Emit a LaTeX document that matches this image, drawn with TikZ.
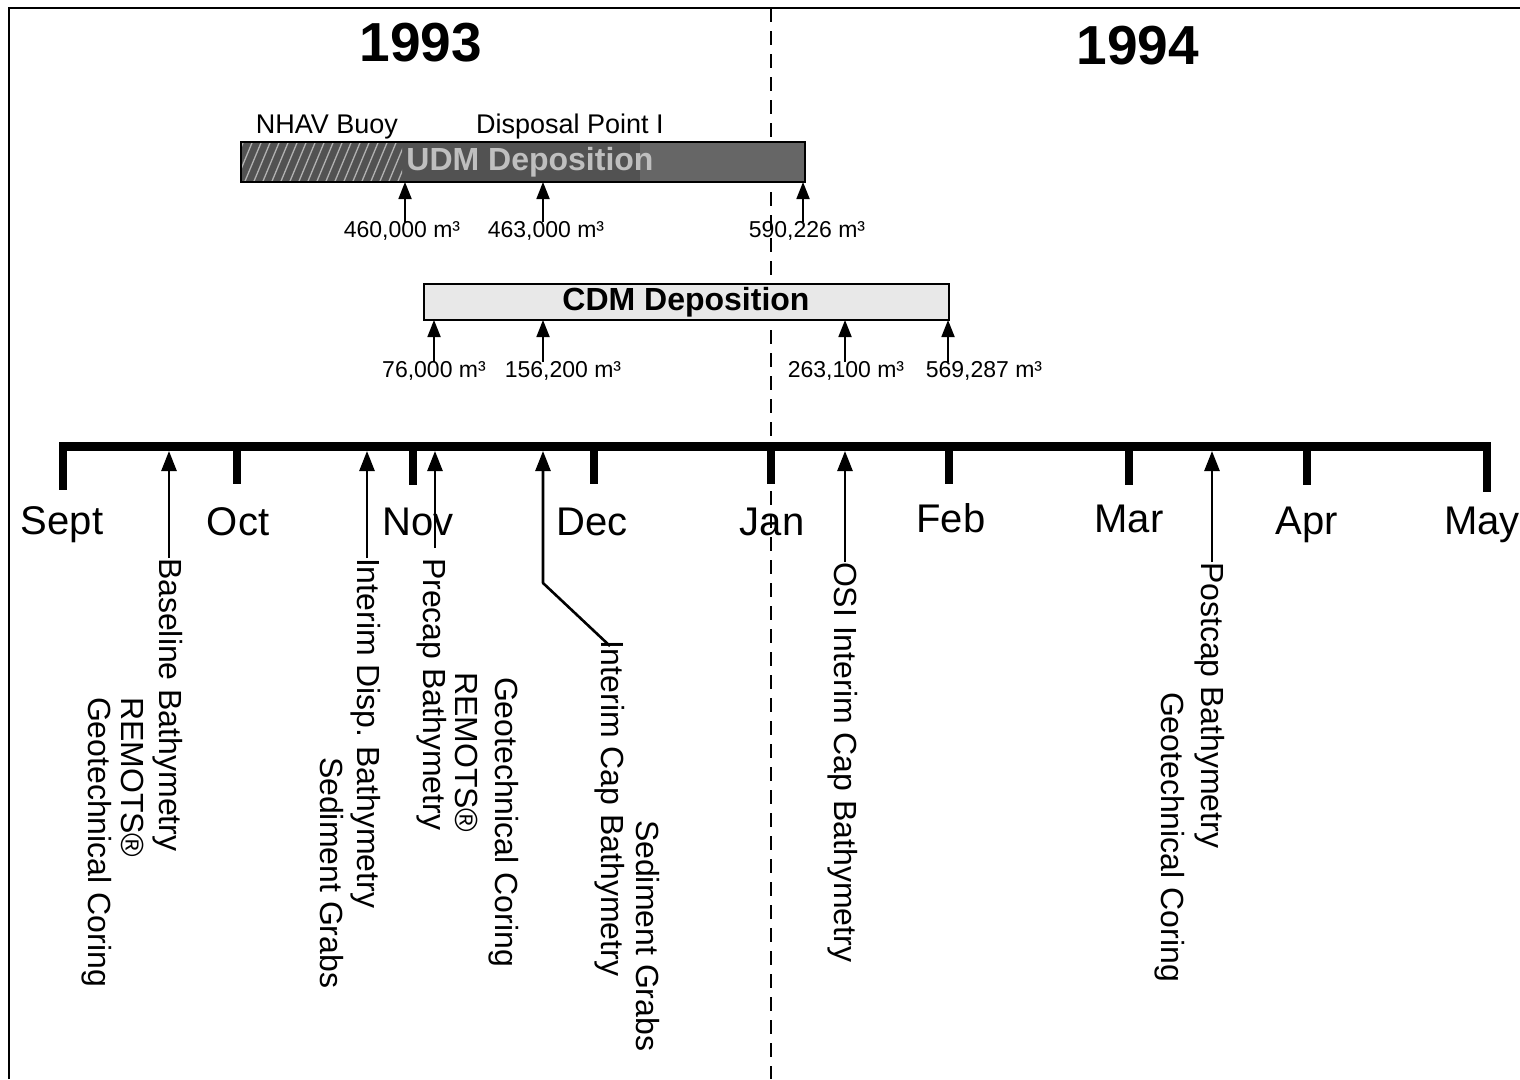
\documentclass[tikz,border=0pt]{standalone}
\usepackage{fontspec}
\setmainfont{Liberation Sans}
\usetikzlibrary{arrows.meta}
\begin{document}
\begin{tikzpicture}[x=1pt,y=-1pt,
  every node/.style={inner sep=0pt, outer sep=0pt},
  year/.style={font=\fontsize{55}{58}\selectfont\bfseries},
  month/.style={font=\fontsize{40}{42}\selectfont, anchor=base},
  site/.style={font=\fontsize{27}{28}\selectfont},
  barlabel/.style={font=\fontsize{32}{34}\selectfont\bfseries},
  vol/.style={font=\fontsize{23}{25}\selectfont},
  event/.style={font=\fontsize{32}{34}\selectfont, rotate=-90, anchor=west},
  evarrow/.style={line width=2.6pt, -{Triangle[width=15pt,length=20pt]}},
  volarrow/.style={line width=1.8pt, -{Triangle[width=13pt,length=17pt]}},
  mtick/.style={line width=8pt},
]
\useasboundingbox (0,0) rectangle (1520,1079);
\fill[white] (0,0) rectangle (1520,1079);
% frame
\draw[line width=1.5pt] (9,1079) -- (9,8) -- (1520,8);
% year divider
\draw[line width=2pt, dash pattern=on 14pt off 9pt] (771,8) -- (771,1079);
% years
\node[year] (y93) at (421,43) {1993};
\node[year] (y94) at (1138,46) {1994};
% site labels
\node[site] (nhav) at (327,127) {NHAV Buoy};
\node[site] (dp) at (570,127) {Disposal Point I};
% UDM bar
\fill[black!68] (241,142) rectangle (805,182);
\fill[black!60] (640,142) rectangle (805,182);
\begin{scope}
  \clip (241,142) rectangle (402,182);
  \foreach \i in {0,9,...,190} \draw[gray!60, line width=1.3pt] (225+\i,186) -- (245+\i,138);
\end{scope}
\draw[line width=1.2pt] (241,142) rectangle (805,182);
\node[barlabel, text=white!75!black] (udm) at (530,162) {UDM Deposition};
\coordinate (u1) at (405,182);
\coordinate (u2) at (543,182);
\coordinate (u3) at (803,182);
\node[vol] (v1) at (402,231) {460,000 m³};
\node[vol] (v2) at (546,231) {463,000 m³};
\node[vol] (v3) at (807,231) {590,226 m³};
\draw[volarrow] (v1.north -| u1) -- (u1);
\draw[volarrow] (v2.north -| u2) -- (u2);
\draw[volarrow] (v3.north -| u3) -- (u3);
% CDM bar
\fill[black!9] (424,284) rectangle (949,320);
\draw[line width=1.5pt] (424,284) rectangle (949,320);
\node[barlabel] (cdm) at (686,302) {CDM Deposition};
\coordinate (c1) at (434,320);
\coordinate (c2) at (543,320);
\coordinate (c3) at (845,320);
\coordinate (c4) at (948,320);
\node[vol] (w1) at (434,371) {76,000 m³};
\node[vol] (w2) at (563,371) {156,200 m³};
\node[vol] (w3) at (846,371) {263,100 m³};
\node[vol] (w4) at (984,371) {569,287 m³};
\draw[volarrow] (w1.north -| c1) -- (c1);
\draw[volarrow] (w2.north -| c2) -- (c2);
\draw[volarrow] (w3.north -| c3) -- (c3);
\draw[volarrow] (w4.north -| c4) -- (c4);
% timeline
\draw[line width=9pt] (59,446) -- (1491,446);
\draw[mtick] (63,446) -- (63,490);
\draw[mtick] (237,446) -- (237,484);
\draw[mtick] (413,446) -- (413,485);
\draw[mtick] (594,446) -- (594,484);
\draw[mtick] (771,446) -- (771,484);
\draw[mtick] (949,446) -- (949,484);
\draw[mtick] (1129,446) -- (1129,485);
\draw[mtick] (1307,446) -- (1307,485);
\draw[mtick] (1487,446) -- (1487,492);
% months
\node[month] (sep) at (62,534) {Sept};
\node[month] (oct) at (238,535) {Oct};
\node[month] (nov) at (418,535) {Nov};
\node[month] (dec) at (592,535) {Dec};
\node[month] (jan) at (772,535) {Jan};
\node[month] (feb) at (951,532) {Feb};
\node[month] (mar) at (1129,532) {Mar};
\node[month] (apr) at (1307,534) {Apr};
\node[month] (may) at (1482,534) {May};
% events
\node[event] (e1a) at (168,558) {Baseline Bathymetry};
\node[event] (e1b) at (133,697) {REMOTS®};
\node[event] (e1c) at (97,697) {Geotechnical Coring};
\node[event] (e2a) at (366,558) {Interim Disp.\ Bathymetry};
\node[event] (e2b) at (332,757) {Sediment Grabs};
\node[event] (e3a) at (432,558) {Precap Bathymetry};
\node[event] (e3b) at (467,672) {REMOTS®};
\node[event] (e3c) at (504,677) {Geotechnical Coring};
\node[event] (e4a) at (610,640) {Interim Cap Bathymetry};
\node[event] (e4b) at (648,820) {Sediment Grabs};
\node[event] (e5) at (843,562) {OSI Interim Cap Bathymetry};
\node[event] (e6a) at (1210,562) {Postcap Bathymetry};
\node[event] (e6b) at (1170,692) {Geotechnical Coring};
% event arrows
\coordinate (t1) at (169,451);
\coordinate (t2) at (367,451);
\coordinate (t3) at (435,451);
\coordinate (t4) at (543,451);
\coordinate (t5) at (845,451);
\coordinate (t6) at (1212,451);
\coordinate (k4) at (543,583);
\draw[evarrow] (e1a.west -| t1) -- (t1);
\draw[evarrow] (e2a.west -| t2) -- (t2);
\draw[evarrow] (t3 |- 0,548) -- (t3);
\draw[evarrow, line join=round] ([yshift=-6pt]e4a.west) -- (k4) -- (t4);
\draw[evarrow] (e5.west -| t5) -- (t5);
\draw[evarrow] (e6a.west -| t6) -- (t6);
\end{tikzpicture}
\end{document}
